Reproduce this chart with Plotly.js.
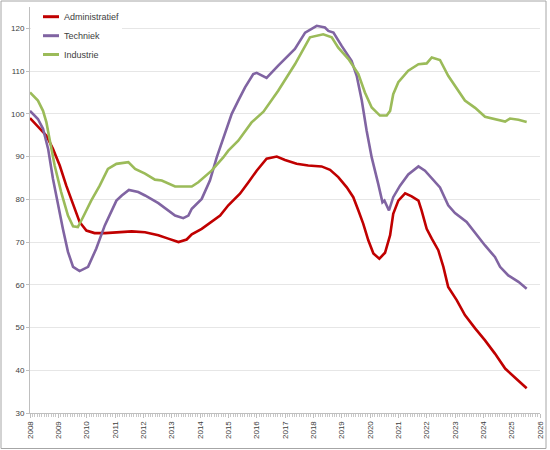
<!DOCTYPE html>
<html>
<head>
<meta charset="utf-8">
<script src="https://cdn.plot.ly/plotly-3.0.1.min.js"></script>
<style>
  html, body { margin: 0; padding: 0; background: #ffffff; }
  #chart { width: 550px; height: 450px; }
</style>
</head>
<body>
<div id="chart"></div>
<script>
// Series names and colours
var seriesNames = ["Administratief", "Techniek", "Industrie"];
var seriesColors = ["#C00000", "#8064A2", "#9BBB59"];

// Administratief
var adminYears = [2008.00, 2008.28, 2008.58, 2008.81, 2009.05, 2009.28, 2009.52, 2009.75, 2009.99, 2010.28,
  2010.65, 2011.12, 2011.59, 2012.06, 2012.53, 2012.88, 2013.24, 2013.53, 2013.71, 2014.06,
  2014.47, 2014.71, 2015.00, 2015.41, 2015.71, 2016.00, 2016.35, 2016.71, 2017.00, 2017.41,
  2017.82, 2018.29, 2018.59, 2018.88, 2019.18, 2019.41, 2019.59, 2019.76, 2019.94, 2020.12,
  2020.33, 2020.53, 2020.71, 2020.82, 2021.00, 2021.24, 2021.47, 2021.71, 2021.82, 2022.00,
  2022.18, 2022.41, 2022.59, 2022.76, 2023.06, 2023.35, 2023.71, 2024.06, 2024.41, 2024.77,
  2025.18, 2025.53];
var adminValues = [99.0, 96.9, 94.9, 91.8, 87.9, 83.2, 78.6, 74.7, 72.7, 72.1,
  72.1, 72.3, 72.5, 72.3, 71.6, 70.8, 70.0, 70.6, 71.8, 73.1,
  75.1, 76.2, 78.6, 81.3, 84.0, 86.7, 89.5, 90.0, 89.2, 88.3,
  87.9, 87.7, 86.9, 85.2, 82.8, 80.5, 77.4, 74.3, 70.4, 67.3,
  66.1, 67.5, 71.6, 76.6, 79.7, 81.4, 80.7, 79.7, 77.4, 73.1,
  70.8, 68.1, 64.2, 59.5, 56.4, 52.9, 49.8, 47.0, 43.9, 40.4,
  37.9, 35.8];

// Techniek
var techYears = [2008.00, 2008.28, 2008.46, 2008.64, 2008.81, 2008.99, 2009.16, 2009.34, 2009.52, 2009.75,
  2010.05, 2010.34, 2010.64, 2011.05, 2011.24, 2011.49, 2011.82, 2012.06, 2012.53, 2013.12,
  2013.41, 2013.59, 2013.71, 2014.06, 2014.35, 2014.59, 2014.88, 2015.12, 2015.35, 2015.59,
  2015.88, 2016.00, 2016.35, 2016.76, 2017.35, 2017.71, 2018.12, 2018.41, 2018.53, 2018.71,
  2019.00, 2019.35, 2019.53, 2019.71, 2019.88, 2020.06, 2020.29, 2020.44, 2020.51, 2020.67,
  2020.82, 2021.06, 2021.35, 2021.71, 2021.94, 2022.29, 2022.47, 2022.76, 2023.00, 2023.41,
  2023.77, 2024.06, 2024.41, 2024.59, 2024.88, 2025.24, 2025.53];
var techValues = [100.7, 98.8, 96.5, 91.8, 84.8, 78.6, 73.1, 67.7, 64.2, 63.2,
  64.2, 68.5, 73.9, 79.7, 80.9, 82.2, 81.7, 80.9, 79.1, 76.2,
  75.6, 76.2, 77.8, 80.1, 84.4, 89.8, 95.3, 100.0, 103.1, 106.2,
  109.3, 109.6, 108.4, 111.3, 115.2, 119.0, 120.6, 120.2, 119.4, 119.0,
  115.9, 112.4, 108.9, 103.1, 96.1, 89.8, 83.6, 79.3, 79.7, 77.4,
  80.5, 83.2, 85.8, 87.7, 86.7, 84.0, 82.8, 78.6, 76.8, 74.7,
  71.6, 69.2, 66.5, 64.2, 62.2, 60.7, 59.1];

// Industrie
var indYears = [2008.00, 2008.28, 2008.46, 2008.58, 2008.69, 2008.87, 2009.10, 2009.34, 2009.52, 2009.69,
  2009.87, 2010.16, 2010.46, 2010.75, 2011.05, 2011.47, 2011.71, 2012.06, 2012.41, 2012.65,
  2013.12, 2013.71, 2013.94, 2014.41, 2014.82, 2015.00, 2015.35, 2015.82, 2016.24, 2016.65,
  2016.76, 2017.35, 2017.88, 2018.35, 2018.65, 2018.88, 2019.24, 2019.59, 2019.82, 2020.06,
  2020.35, 2020.59, 2020.71, 2020.82, 2021.00, 2021.35, 2021.71, 2022.00, 2022.18, 2022.47,
  2022.76, 2023.35, 2023.71, 2024.06, 2024.41, 2024.77, 2024.94, 2025.24, 2025.53];
var indValues = [105.0, 103.1, 100.7, 98.0, 94.1, 87.9, 81.7, 76.2, 73.7, 73.5,
  75.8, 79.7, 83.2, 87.1, 88.3, 88.7, 87.1, 86.0, 84.6, 84.4,
  83.0, 83.0, 84.0, 86.7, 89.8, 91.4, 93.7, 98.0, 100.5, 104.4,
  105.4, 111.6, 117.9, 118.6, 117.9, 115.5, 112.8, 109.3, 105.0, 101.5,
  99.6, 99.6, 100.7, 104.6, 107.4, 110.1, 111.6, 111.8, 113.2, 112.6,
  108.9, 103.1, 101.4, 99.3, 98.8, 98.2, 98.9, 98.6, 98.1];

// Axis ticks
var yTicks = [30, 40, 50, 60, 70, 80, 90, 100, 110, 120];
var xTicks = [2008, 2009, 2010, 2011, 2012, 2013, 2014, 2015, 2016, 2017, 2018, 2019, 2020, 2021, 2022, 2023, 2024, 2025, 2026];

var xs = [adminYears, techYears, indYears];
var ys = [adminValues, techValues, indValues];

var traces = seriesNames.map(function (name, i) {
  return {
    type: "scatter",
    mode: "lines",
    name: name,
    x: xs[i],
    y: ys[i],
    line: { color: seriesColors[i], width: 2.6 },
    hoverinfo: "skip"
  };
});

// Manual legend (pixel -> paper helpers for the plot area 30..540 x 7..413)
function px(x) { return (x - 30) / 510; }
function py(y) { return (413 - y) / 406; }

var shapes = [
  // chart border
  { type: "rect", xref: "paper", yref: "paper", x0: px(1), x1: px(546), y0: py(448.5), y1: py(1),
    line: { color: "#a6a6a6", width: 1 }, fillcolor: "rgba(0,0,0,0)", layer: "above" },
  // legend background
  { type: "rect", xref: "paper", yref: "paper", x0: px(31), x1: px(122), y0: py(63), y1: py(9),
    line: { width: 0 }, fillcolor: "#ffffff", layer: "above" }
];
var annotations = [];
var rowY = [16.7, 35.7, 54.5];
seriesNames.forEach(function (name, i) {
  shapes.push({ type: "line", xref: "paper", yref: "paper", x0: px(43), x1: px(59), y0: py(rowY[i]), y1: py(rowY[i]),
    line: { color: seriesColors[i], width: 3 }, layer: "above" });
  annotations.push({ xref: "paper", yref: "paper", x: px(62), y: py(rowY[i]), xanchor: "left", yanchor: "middle",
    text: name, showarrow: false, font: { family: "Liberation Sans, Arial, sans-serif", size: 9, color: "#404040" } });
});

var layout = {
  width: 550,
  height: 450,
  margin: { l: 30, r: 10, t: 7, b: 37, pad: 0 },
  paper_bgcolor: "#ffffff",
  plot_bgcolor: "#ffffff",
  showlegend: false,
  font: { family: "Liberation Sans, Arial, sans-serif", size: 8, color: "#404040" },
  xaxis: {
    range: [2008, 2026],
    tickmode: "array",
    tickvals: xTicks,
    ticktext: xTicks.map(String),
    tickangle: -90,
    ticks: "outside",
    ticklen: 4,
    tickcolor: "#bfbfbf",
    showline: true,
    linecolor: "#bfbfbf",
    linewidth: 1,
    showgrid: false,
    zeroline: false,
    tickfont: { size: 8, color: "#404040" },
    minor: { dtick: 1 / 12, tick0: 2008, ticks: "outside", ticklen: 3, tickcolor: "#c8c8c8", showgrid: false }
  },
  yaxis: {
    range: [30, 125],
    tickmode: "array",
    tickvals: yTicks,
    ticktext: yTicks.map(String),
    ticks: "outside",
    ticklen: 3,
    tickcolor: "#bfbfbf",
    showline: true,
    linecolor: "#bfbfbf",
    linewidth: 1,
    showgrid: true,
    gridcolor: "#e6e6e6",
    gridwidth: 1,
    zeroline: false,
    tickfont: { size: 8, color: "#404040" }
  },
  shapes: shapes,
  annotations: annotations
};

Plotly.newPlot("chart", traces, layout, { displayModeBar: false, staticPlot: true });
</script>
</body>
</html>
